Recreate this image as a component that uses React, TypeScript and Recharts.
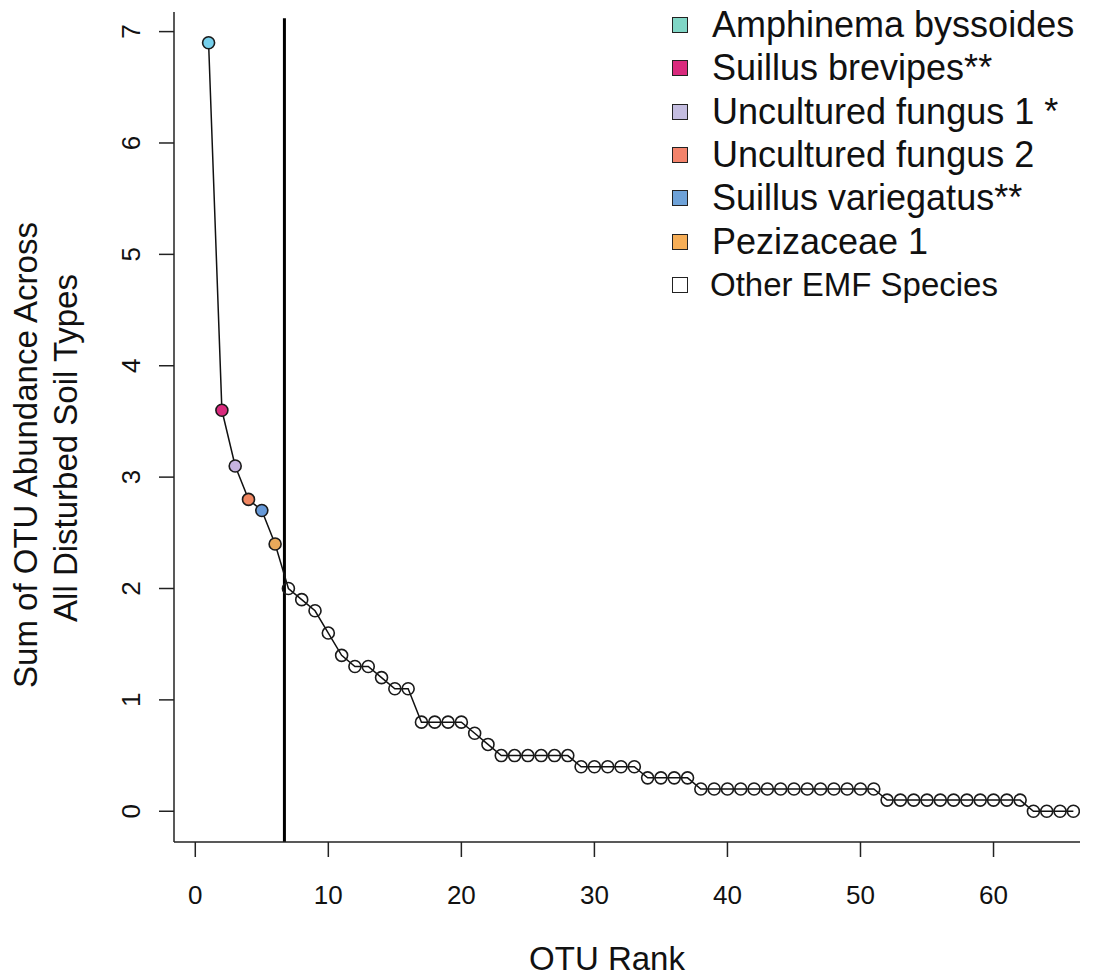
import React from "react";
import { Label, Legend, Line, LineChart, ReferenceLine, XAxis, YAxis } from "recharts";

// summed OTU abundance, ordered by rank (rank = position + 1)
const abundance = [
  6.9, 3.6, 3.1, 2.8, 2.7, 2.4,
  2.0, 1.9, 1.8, 1.6, 1.4, 1.3, 1.3, 1.2, 1.1, 1.1,
  0.8, 0.8, 0.8, 0.8, 0.7, 0.6,
  0.5, 0.5, 0.5, 0.5, 0.5, 0.5,
  0.4, 0.4, 0.4, 0.4, 0.4,
  0.3, 0.3, 0.3, 0.3,
  0.2, 0.2, 0.2, 0.2, 0.2, 0.2, 0.2, 0.2, 0.2, 0.2, 0.2, 0.2, 0.2, 0.2,
  0.1, 0.1, 0.1, 0.1, 0.1, 0.1, 0.1, 0.1, 0.1, 0.1, 0.1,
  0, 0, 0, 0,
];

const speciesNames = [
  "Amphinema byssoides",
  "Suillus brevipes**",
  "Uncultured fungus 1 *",
  "Uncultured fungus 2",
  "Suillus variegatus**",
  "Pezizaceae 1",
  "Other EMF Species",
];
const legendColors = ["#80d6c6", "#d92a7d", "#c4bde0", "#f3836b", "#6ea2d8", "#f6ae57", "#ffffff"];
const pointColors = ["#76d0ec", "#d92a7d", "#c6b3e0", "#f08660", "#6699d8", "#e9a95a"];

const xTicks = [0, 10, 20, 30, 40, 50, 60];
const yTicks = [0, 1, 2, 3, 4, 5, 6, 7];
const cutoffRank = 6.7;

const data = abundance.map((value, i) => ({ rank: i + 1, value }));

const FONT = '"Liberation Sans", Arial, Helvetica, sans-serif';

const XTick = ({ x, y, payload }: any) => (
  <text x={x} y={y} dy={45} textAnchor="middle" fontSize={26} fill="#111" fontFamily={FONT}>
    {payload.value}
  </text>
);

const YTick = ({ x, y, payload }: any) => (
  <text
    transform={`translate(${x - 17},${y}) rotate(-90)`}
    textAnchor="middle"
    fontSize={26}
    fill="#111"
    fontFamily={FONT}
  >
    {payload.value}
  </text>
);

const renderDot = (props: any) => {
  const { cx, cy, index } = props;
  const fill = index < pointColors.length ? pointColors[index] : "none";
  return (
    <circle key={`dot-${index}`} cx={cx} cy={cy} r={6} fill={fill} stroke="#1a1a1a" strokeWidth={1.6} />
  );
};

const LegendBox = () => (
  <div style={{ position: "relative", width: 430, height: 310, fontFamily: FONT }}>
    {speciesNames.map((name, i) => {
      const last = i === speciesNames.length - 1;
      return (
        <div
          key={name}
          style={{
            position: "absolute",
            top: 17 + i * 43.3 - 22,
            left: 0,
            height: 44,
            display: "flex",
            alignItems: "center",
            whiteSpace: "nowrap",
          }}
        >
          <span
            style={{
              display: "inline-block",
              width: 14,
              height: 14,
              background: legendColors[i],
              border: "1.5px solid #222",
            }}
          />
          <span style={{ marginLeft: last ? 22 : 24, fontSize: last ? 33 : 36, color: "#111" }}>{name}</span>
        </div>
      );
    })}
  </div>
);

const App = () => {
  return (
    <div style={{ fontFamily: FONT }}>
      <LineChart width={1096} height={971} data={data} margin={{ top: 4, right: 24, left: 0, bottom: 0 }}>
        <XAxis
          type="number"
          dataKey="rank"
          domain={[-1.6, 66.5]}
          ticks={xTicks}
          tick={<XTick />}
          tickSize={15}
          height={137}
          stroke="#222"
          strokeWidth={1.5}
          allowDataOverflow
        >
          <Label
            content={() => (
              <text x={599} y={962} textAnchor="middle" fontSize={33} fill="#111" fontFamily={FONT}>
                OTU Rank
              </text>
            )}
          />
        </XAxis>
        <YAxis
          type="number"
          domain={[-0.276, 7.176]}
          ticks={yTicks}
          tick={<YTick />}
          tickSize={15}
          width={166}
          stroke="#222"
          strokeWidth={1.5}
          allowDataOverflow
        >
          <Label
            content={() => (
              <g fontSize={33} fill="#111" fontFamily={FONT}>
                <text transform="translate(29,447) rotate(-90)" textAnchor="middle">
                  Sum of OTU Abundance Across
                </text>
                <text transform="translate(69,440) rotate(-90)" textAnchor="middle">
                  All Disturbed Soil Types
                </text>
              </g>
            )}
          />
        </YAxis>
        <Legend
          layout="vertical"
          align="center"
          verticalAlign="middle"
          content={<LegendBox />}
          wrapperStyle={{ top: 0, left: 664, width: 430, height: 310 }}
        />
        <ReferenceLine
          segment={[
            { x: cutoffRank, y: 7.12 },
            { x: cutoffRank, y: -0.276 },
          ]}
          stroke="#000"
          strokeWidth={3}
        />
        <Line
          type="linear"
          dataKey="value"
          stroke="#111"
          strokeWidth={1.5}
          dot={renderDot}
          activeDot={false}
          isAnimationActive={false}
        />
      </LineChart>
    </div>
  );
};

export default App;
